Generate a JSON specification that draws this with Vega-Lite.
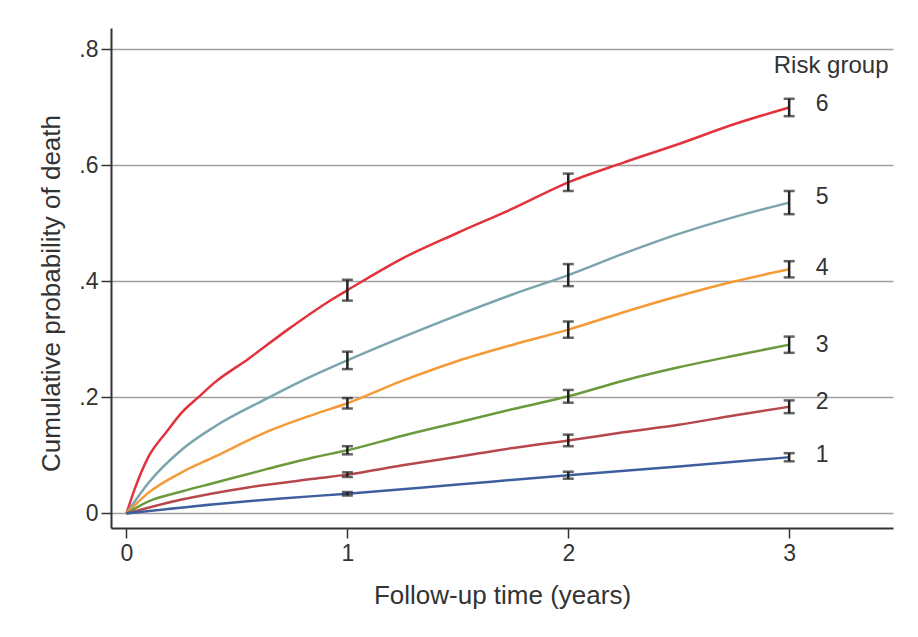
{
  "$schema": "https://vega.github.io/schema/vega-lite/v6.json",
  "width": 782,
  "height": 500,
  "autosize": {"type": "none"},
  "padding": {"left": 111, "top": 28, "right": 25, "bottom": 109},
  "background": "white",
  "config": {
    "font": "Liberation Sans",
    "view": {"stroke": null},
    "axis": {"labelFont": "Liberation Sans", "titleFont": "Liberation Sans", "labelColor": "#333", "titleColor": "#333", "titleFontWeight": "normal"}
  },
  "datasets": {
    "curves": [
      {"group": "6", "t": 0, "p": 0}, {"group": "6", "t": 0.04, "p": 0.045}, {"group": "6", "t": 0.1, "p": 0.098}, {"group": "6", "t": 0.18, "p": 0.14}, {"group": "6", "t": 0.25, "p": 0.174}, {"group": "6", "t": 0.33, "p": 0.202}, {"group": "6", "t": 0.4, "p": 0.226}, {"group": "6", "t": 0.55, "p": 0.266}, {"group": "6", "t": 0.73, "p": 0.317}, {"group": "6", "t": 0.93, "p": 0.369}, {"group": "6", "t": 1, "p": 0.385}, {"group": "6", "t": 1.25, "p": 0.44}, {"group": "6", "t": 1.5, "p": 0.484}, {"group": "6", "t": 1.75, "p": 0.526}, {"group": "6", "t": 2, "p": 0.571}, {"group": "6", "t": 2.25, "p": 0.605}, {"group": "6", "t": 2.5, "p": 0.637}, {"group": "6", "t": 2.75, "p": 0.671}, {"group": "6", "t": 3, "p": 0.7},
      {"group": "5", "t": 0, "p": 0}, {"group": "5", "t": 0.1, "p": 0.053}, {"group": "5", "t": 0.25, "p": 0.11}, {"group": "5", "t": 0.4, "p": 0.15}, {"group": "5", "t": 0.63, "p": 0.197}, {"group": "5", "t": 0.78, "p": 0.226}, {"group": "5", "t": 1, "p": 0.264}, {"group": "5", "t": 1.25, "p": 0.304}, {"group": "5", "t": 1.5, "p": 0.342}, {"group": "5", "t": 1.75, "p": 0.378}, {"group": "5", "t": 2, "p": 0.411}, {"group": "5", "t": 2.25, "p": 0.448}, {"group": "5", "t": 2.5, "p": 0.482}, {"group": "5", "t": 2.75, "p": 0.511}, {"group": "5", "t": 3, "p": 0.536},
      {"group": "4", "t": 0, "p": 0}, {"group": "4", "t": 0.1, "p": 0.036}, {"group": "4", "t": 0.25, "p": 0.071}, {"group": "4", "t": 0.4, "p": 0.098}, {"group": "4", "t": 0.63, "p": 0.14}, {"group": "4", "t": 0.85, "p": 0.171}, {"group": "4", "t": 1, "p": 0.19}, {"group": "4", "t": 1.25, "p": 0.229}, {"group": "4", "t": 1.5, "p": 0.263}, {"group": "4", "t": 1.75, "p": 0.291}, {"group": "4", "t": 2, "p": 0.317}, {"group": "4", "t": 2.25, "p": 0.347}, {"group": "4", "t": 2.5, "p": 0.375}, {"group": "4", "t": 2.75, "p": 0.4}, {"group": "4", "t": 3, "p": 0.421},
      {"group": "3", "t": 0, "p": 0}, {"group": "3", "t": 0.1, "p": 0.021}, {"group": "3", "t": 0.25, "p": 0.038}, {"group": "3", "t": 0.4, "p": 0.053}, {"group": "3", "t": 0.63, "p": 0.076}, {"group": "3", "t": 0.85, "p": 0.097}, {"group": "3", "t": 1, "p": 0.109}, {"group": "3", "t": 1.25, "p": 0.134}, {"group": "3", "t": 1.5, "p": 0.157}, {"group": "3", "t": 1.75, "p": 0.18}, {"group": "3", "t": 2, "p": 0.202}, {"group": "3", "t": 2.25, "p": 0.229}, {"group": "3", "t": 2.5, "p": 0.252}, {"group": "3", "t": 2.75, "p": 0.272}, {"group": "3", "t": 3, "p": 0.291},
      {"group": "2", "t": 0, "p": 0}, {"group": "2", "t": 0.25, "p": 0.024}, {"group": "2", "t": 0.55, "p": 0.045}, {"group": "2", "t": 0.85, "p": 0.06}, {"group": "2", "t": 1, "p": 0.067}, {"group": "2", "t": 1.25, "p": 0.083}, {"group": "2", "t": 1.5, "p": 0.098}, {"group": "2", "t": 1.75, "p": 0.113}, {"group": "2", "t": 2, "p": 0.126}, {"group": "2", "t": 2.25, "p": 0.14}, {"group": "2", "t": 2.5, "p": 0.153}, {"group": "2", "t": 2.75, "p": 0.169}, {"group": "2", "t": 3, "p": 0.184},
      {"group": "1", "t": 0, "p": 0}, {"group": "1", "t": 0.4, "p": 0.016}, {"group": "1", "t": 0.7, "p": 0.026}, {"group": "1", "t": 1, "p": 0.034}, {"group": "1", "t": 1.5, "p": 0.05}, {"group": "1", "t": 2, "p": 0.066}, {"group": "1", "t": 2.5, "p": 0.081}, {"group": "1", "t": 3, "p": 0.097}
    ],
    "errors": [
      {"group": "6", "t": 1, "lo": 0.367, "hi": 0.403}, {"group": "6", "t": 2, "lo": 0.556, "hi": 0.586}, {"group": "6", "t": 3, "lo": 0.685, "hi": 0.715},
      {"group": "5", "t": 1, "lo": 0.249, "hi": 0.279}, {"group": "5", "t": 2, "lo": 0.392, "hi": 0.43}, {"group": "5", "t": 3, "lo": 0.516, "hi": 0.556},
      {"group": "4", "t": 1, "lo": 0.181, "hi": 0.199}, {"group": "4", "t": 2, "lo": 0.303, "hi": 0.331}, {"group": "4", "t": 3, "lo": 0.407, "hi": 0.435},
      {"group": "3", "t": 1, "lo": 0.102, "hi": 0.116}, {"group": "3", "t": 2, "lo": 0.191, "hi": 0.213}, {"group": "3", "t": 3, "lo": 0.277, "hi": 0.305},
      {"group": "2", "t": 1, "lo": 0.063, "hi": 0.071}, {"group": "2", "t": 2, "lo": 0.116, "hi": 0.136}, {"group": "2", "t": 3, "lo": 0.173, "hi": 0.195},
      {"group": "1", "t": 1, "lo": 0.031, "hi": 0.037}, {"group": "1", "t": 2, "lo": 0.06, "hi": 0.072}, {"group": "1", "t": 3, "lo": 0.09, "hi": 0.104}
    ],
    "labels": [
      {"group": "6", "t": 3.12, "p": 0.706},
      {"group": "5", "t": 3.12, "p": 0.545},
      {"group": "4", "t": 3.12, "p": 0.424},
      {"group": "3", "t": 3.12, "p": 0.291},
      {"group": "2", "t": 3.12, "p": 0.193},
      {"group": "1", "t": 3.12, "p": 0.101}
    ],
    "heading": [
      {"label": "Risk group", "t": 3.19, "p": 0.771}
    ]
  },
  "layer": [
    {
      "data": {"name": "curves"},
      "mark": {"type": "line", "strokeWidth": 2.5, "interpolate": "monotone"},
      "encoding": {
        "x": {
          "field": "t", "type": "quantitative",
          "scale": {"domain": [-0.07, 3.47], "nice": false, "zero": false},
          "axis": {
            "values": [0, 1, 2, 3], "format": "d", "grid": false, "title": "Follow-up time (years)",
            "domainColor": "#333", "domainWidth": 2, "tickColor": "#333", "tickWidth": 1.5, "tickSize": 10,
            "labelFontSize": 23, "labelPadding": 4, "titleFontSize": 26, "titlePadding": 17
          }
        },
        "y": {
          "field": "p", "type": "quantitative",
          "scale": {"domain": [-0.025, 0.837], "nice": false, "zero": false},
          "axis": {
            "values": [0, 0.2, 0.4, 0.6, 0.8], "grid": true, "gridColor": "#a0a0a0", "gridWidth": 1.6,
            "labelExpr": "datum.value == 0 ? '0' : replace(format(datum.value, '.1f'), '0.', '.')",
            "domainColor": "#333", "domainWidth": 2, "tickColor": "#333", "tickWidth": 1.5, "tickSize": 10,
            "labelFontSize": 23, "labelPadding": 3,
            "title": "Cumulative probability of death", "titleFontSize": 26,
            "titleX": -60, "titleY": 265, "titleAngle": -90, "titleBaseline": "middle"
          }
        },
        "color": {
          "field": "group", "type": "nominal",
          "scale": {"domain": ["1", "2", "3", "4", "5", "6"], "range": ["#3d5f9e", "#b6474c", "#6b9a3c", "#f49a36", "#7aa5ad", "#e2323c"]},
          "legend": null
        },
        "detail": {"field": "group"}
      }
    },
    {
      "data": {"name": "errors"},
      "mark": {"type": "rule", "color": "#222", "strokeWidth": 2.5},
      "encoding": {
        "x": {"field": "t", "type": "quantitative"},
        "y": {"field": "lo", "type": "quantitative"},
        "y2": {"field": "hi"}
      }
    },
    {
      "data": {"name": "errors"},
      "mark": {"type": "tick", "orient": "horizontal", "color": "#222", "size": 11, "thickness": 2.5},
      "encoding": {
        "x": {"field": "t", "type": "quantitative"},
        "y": {"field": "lo", "type": "quantitative"}
      }
    },
    {
      "data": {"name": "errors"},
      "mark": {"type": "tick", "orient": "horizontal", "color": "#222", "size": 11, "thickness": 2.5},
      "encoding": {
        "x": {"field": "t", "type": "quantitative"},
        "y": {"field": "hi", "type": "quantitative"}
      }
    },
    {
      "data": {"name": "labels"},
      "mark": {"type": "text", "align": "left", "baseline": "middle", "fontSize": 23, "color": "#333"},
      "encoding": {
        "x": {"field": "t", "type": "quantitative"},
        "y": {"field": "p", "type": "quantitative"},
        "text": {"field": "group"}
      }
    },
    {
      "data": {"name": "heading"},
      "mark": {"type": "text", "align": "center", "baseline": "middle", "fontSize": 24, "color": "#333"},
      "encoding": {
        "x": {"field": "t", "type": "quantitative"},
        "y": {"field": "p", "type": "quantitative"},
        "text": {"field": "label"}
      }
    }
  ]
}
